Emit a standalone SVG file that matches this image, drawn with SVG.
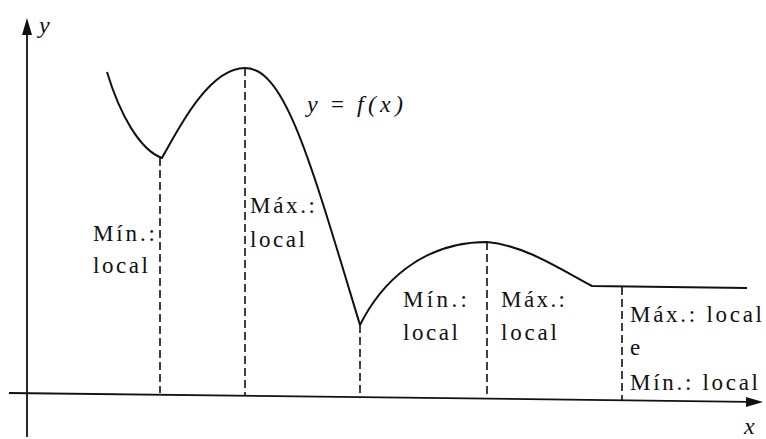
<svg xmlns="http://www.w3.org/2000/svg" width="766" height="439" viewBox="0 0 766 439">
<style>
.ax{stroke:#111;stroke-width:1.8;fill:none}
.crv{stroke:#111;stroke-width:2;fill:none;stroke-linejoin:round}
.dash{stroke:#111;stroke-width:1.6;stroke-dasharray:8,4;fill:none}
.t{font-family:Liberation Serif, serif;font-size:23px;fill:#111}
.i{font-family:Liberation Serif, serif;font-style:italic;font-size:24px;fill:#111}
</style>
<g id="axes">
<line class="ax" x1="27" y1="437" x2="27" y2="32"/>
<polygon points="27,18 22,35 32,35" fill="#111"/>
<line class="ax" x1="9" y1="393" x2="748" y2="401.8"/>
<polygon points="763,402 746,397 746,407" fill="#111"/>
<text class="i" x="39" y="33">y</text>
<text class="i" x="744" y="434">x</text>
</g>
<g id="curve">
<path class="crv" d="M107,72 C120,115 140,150 162,158 C180,125 210,68 245,68 C285,68 310,160 360,325 C380,285 420,242 487,242 C525,245 565,272 592,286 L747,288"/>
<text class="i" x="307" y="112">y</text>
<text class="t" x="331" y="112">=</text>
<text class="i" x="357" y="112" textLength="46" lengthAdjust="spacing">f(x)</text>
</g>
<g id="connectors">
<line class="dash" x1="160" y1="158" x2="160" y2="393"/>
<line class="dash" x1="245" y1="68" x2="245" y2="396"/>
<line class="dash" x1="360" y1="325" x2="360" y2="397"/>
<line class="dash" x1="487" y1="242" x2="487" y2="399"/>
<line class="dash" x1="622" y1="287" x2="622" y2="401"/>
</g>
<g id="min1">
<text class="t" x="93" y="241" textLength="62" lengthAdjust="spacing">Mín.:</text>
<text class="t" x="93" y="273" textLength="55" lengthAdjust="spacing">local</text>
</g>
<g id="max1">
<text class="t" x="250" y="213" textLength="65" lengthAdjust="spacing">Máx.:</text>
<text class="t" x="250" y="247" textLength="55" lengthAdjust="spacing">local</text>
</g>
<g id="min2">
<text class="t" x="403" y="307" textLength="64" lengthAdjust="spacing">Mín.:</text>
<text class="t" x="403" y="340" textLength="55" lengthAdjust="spacing">local</text>
</g>
<g id="max2">
<text class="t" x="501" y="307" textLength="64" lengthAdjust="spacing">Máx.:</text>
<text class="t" x="501" y="340" textLength="56" lengthAdjust="spacing">local</text>
</g>
<g id="maxmin3">
<text class="t" x="630" y="322" textLength="132" lengthAdjust="spacing">Máx.: local</text>
<text class="t" x="630" y="355">e</text>
<text class="t" x="630" y="390" textLength="128" lengthAdjust="spacing">Mín.: local</text>
</g>
</svg>
